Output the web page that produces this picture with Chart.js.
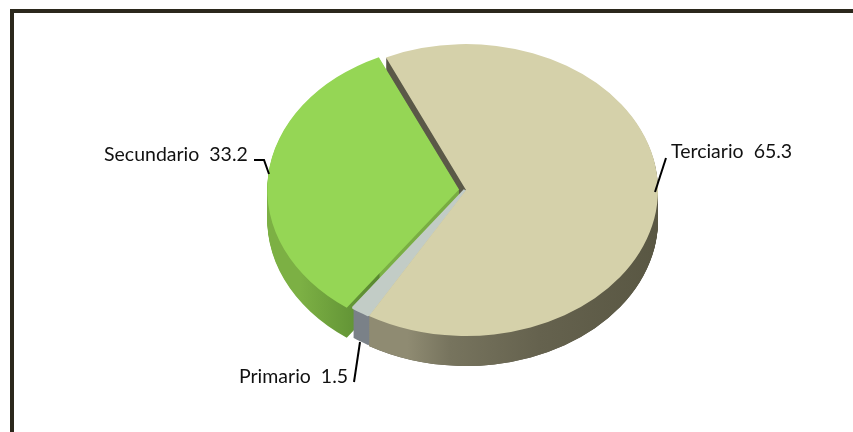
<!DOCTYPE html>
<html>
<head>
<meta charset="utf-8">
<style>
  html, body { margin: 0; padding: 0; background: #fff; overflow: hidden; }
  #wrap { position: relative; width: 853px; height: 432px; }
  #frame { position: absolute; left: 10px; top: 9px; right: -10px; bottom: -10px; border: 4px solid #2b281c; }
</style>
<script src="https://cdn.jsdelivr.net/npm/chart.js@4"></script>
</head>
<body>
<div id="wrap">
  <div id="frame"></div>
  <canvas id="pie" width="853" height="432"></canvas>
</div>
<script>
// Data
const categories = ['Primario', 'Secundario', 'Terciario'];
const shares = [1.5, 33.2, 65.3];

// Slice styling, same order as categories
const topColors = ['#c2ccc6', '#95d655', '#d5d1aa'];
const sliceOffsets = [0, 24, 4];

// Pie tilt
const centerX = 465;
const centerY = 190;
const squash = 0.76;
const depth = 30;

// Horizontal shading of the pie walls: [x, colour] pairs
const wallStops = [
    [[354, '#7a8188'], [368, '#6c7376']],
    [[268, '#7cb044'], [330, '#5f9034'], [346, '#588830'], [348, '#7ab044'], [470, '#76a83f']],
    [[368, '#8f8b72'], [410, '#77745e'], [500, '#65624e'], [657, '#55533f']]
];

function wallGradient(ctx, i) {
    const stops = wallStops[i];
    const x0 = stops[0][0];
    const x1 = stops[stops.length - 1][0];
    const g = ctx.createLinearGradient(x0, 0, x1, 0);
    stops.forEach(s => g.addColorStop((s[0] - x0) / (x1 - x0), s[1]));
    return g;
}

function drawArc(ctx, arc, color, dy, border) {
    const saved = arc.options;
    arc.options = { ...saved, backgroundColor: color, borderColor: color, borderWidth: border };
    ctx.save();
    ctx.translate(centerX, centerY + dy);
    ctx.scale(1, squash);
    ctx.translate(-arc.x, -arc.y);
    arc.draw(ctx);
    ctx.restore();
    arc.options = saved;
}

// Draws the tilted pie: walls first, tops over them
const tiltPlugin = {
    id: 'tilt',
    beforeDatasetsDraw(chart) {
        const ctx = chart.ctx;
        const arcs = chart.getDatasetMeta(0).data;

        // back to front
        [2, 1, 0].forEach(i => {
            for (let k = depth; k >= 1; k--) {
                drawArc(ctx, arcs[i], i === 2 ? '#5b5948' : wallGradient(ctx, i), k, 0);
            }
        });
        // the lit front of the big slice
        ctx.save();
        ctx.beginPath();
        ctx.rect(0, centerY + 20, chart.width, chart.height);
        ctx.clip();
        for (let k = depth; k >= 1; k--) {
            drawArc(ctx, arcs[2], wallGradient(ctx, 2), k, 0);
        }
        ctx.restore();
        // thick small slice goes under the others, closes the seam
        drawArc(ctx, arcs[0], topColors[0], 0, 3);
        [2, 1].forEach(i => drawArc(ctx, arcs[i], topColors[i], 0, 0));
        return false;
    },
    afterDraw(chart) {
        const ctx = chart.ctx;
        ctx.save();
        ctx.strokeStyle = '#000';
        ctx.lineWidth = 2;
        [
            [[254, 160], [264, 160], [269, 174]],
            [[666, 158], [655, 192]],
            [[354, 382], [360, 342]]
        ].forEach(pts => {
            ctx.beginPath();
            pts.forEach((p, n) => n ? ctx.lineTo(p[0], p[1]) : ctx.moveTo(p[0], p[1]));
            ctx.stroke();
        });
        ctx.fillStyle = '#111';
        ctx.font = '19.5px Lato';
        ctx.textBaseline = 'alphabetic';
        ctx.textAlign = 'left';
        const spots = [[239, 383], [104, 161], [671, 158]];
        categories.forEach((name, i) => {
            ctx.fillText(name + '  ' + shares[i], spots[i][0], spots[i][1]);
        });
        ctx.restore();
    }
};

new Chart(document.getElementById('pie').getContext('2d'), {
    type: 'pie',
    data: {
        labels: categories,
        datasets: [{
            data: shares,
            backgroundColor: topColors,
            offset: sliceOffsets,
            borderWidth: 0,
            radius: 191,
            rotation: 210.4
        }]
    },
    options: {
        responsive: false,
        animation: false,
        plugins: {
            legend: { display: false },
            tooltip: { enabled: false }
        }
    },
    plugins: [tiltPlugin]
});
</script>
</body>
</html>
